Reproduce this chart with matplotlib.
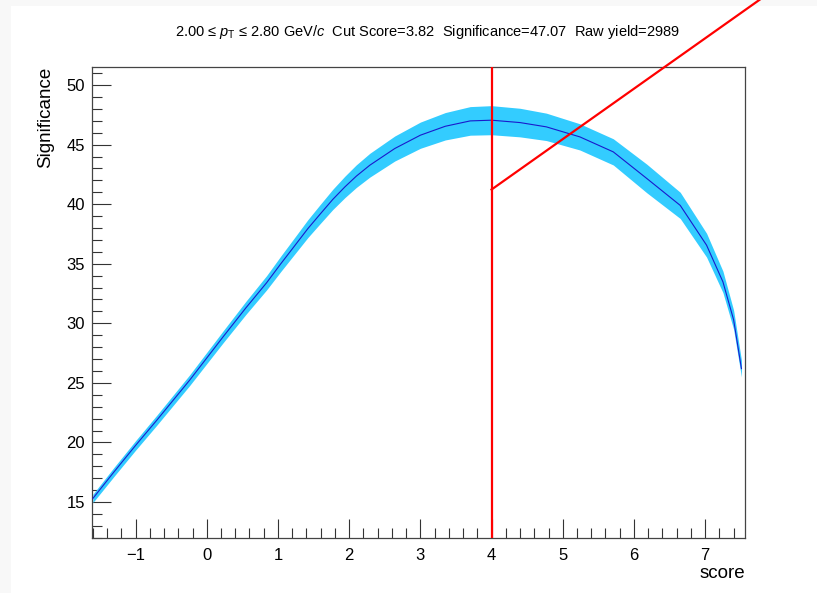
import matplotlib
matplotlib.use("Agg")
import matplotlib.pyplot as plt
from matplotlib.ticker import MultipleLocator
from matplotlib.patches import Rectangle

# ---- data ----
score = [-1.60, -1.30, -1.00, -0.70, -0.24, 0.23, 0.55, 0.84, 1.04, 1.24, 1.42, 1.59,
         1.77, 1.94, 2.10, 2.29, 2.64, 3.00, 3.35, 3.70, 4.00, 4.40, 4.77, 5.24, 5.71,
         6.18, 6.65, 7.02, 7.25, 7.40, 7.51]
significance = [15.30, 17.55, 19.75, 21.88, 25.23, 28.87, 31.30, 33.40, 35.00, 36.55,
                37.95, 39.15, 40.40, 41.45, 42.35, 43.27, 44.67, 45.79, 46.54, 46.99,
                47.05, 46.85, 46.49, 45.65, 44.39, 42.16, 39.90, 36.56, 33.48, 30.30,
                26.20]
sig_err = [0.35, 0.38, 0.40, 0.42, 0.45, 0.50, 0.55, 0.60, 0.65, 0.70, 0.75, 0.80,
           0.85, 0.90, 0.95, 1.00, 1.05, 1.10, 1.15, 1.20, 1.22, 1.20, 1.15, 1.10,
           1.10, 1.20, 1.10, 1.00, 0.90, 0.80, 0.70]

cut_x = [4.0, 4.0]
cut_y = [11.98, 51.54]
diag_x = [4.0, 7.9]
diag_y = [41.23, 57.73]

title = ("2.00 \u2264 $p_{\\rm T}$ \u2264 2.80 GeV/$c$  Cut Score=3.82  "
         "Significance=47.07  Raw yield=2989")

plt.rcParams['font.family'] = ['Liberation Sans', 'DejaVu Sans']
plt.rcParams['mathtext.fontset'] = 'custom'
plt.rcParams['mathtext.rm'] = 'Liberation Sans'
plt.rcParams['mathtext.it'] = 'Liberation Sans:italic'

fig = plt.figure(figsize=(8.17, 5.93), dpi=100)
fig.patch.set_facecolor('white')
# faint grey screenshot border strips
fig.add_artist(Rectangle((0, 0), 11 / 817, 1, transform=fig.transFigure,
                         facecolor='#f8f8f8', edgecolor='none', zorder=-5))
fig.add_artist(Rectangle((0, 1 - 6 / 593), 1, 6 / 593, transform=fig.transFigure,
                         facecolor='#f8f8f8', edgecolor='none', zorder=-5))

ax = fig.add_axes([92 / 817, 55 / 593, (745 - 92) / 817, (538 - 66.7) / 593])

lo = [s - e for s, e in zip(significance, sig_err)]
hi = [s + e for s, e in zip(significance, sig_err)]
ax.fill_between(score, lo, hi, color='#33ccff', linewidth=0, zorder=2)
ax.plot(score, significance, color='#1a1acc', linewidth=0.8, zorder=3)

ax.plot(cut_x, cut_y, color='red', linewidth=1.6, zorder=4)
ax.plot(diag_x, diag_y, color='red', linewidth=1.6, zorder=4, clip_on=False)

ax.set_xlim(-1.612, 7.56)
ax.set_ylim(11.98, 51.54)

ax.xaxis.set_major_locator(MultipleLocator(1))
ax.xaxis.set_minor_locator(MultipleLocator(0.2))
ax.yaxis.set_major_locator(MultipleLocator(5))
ax.yaxis.set_minor_locator(MultipleLocator(1))

ax.tick_params(which='both', direction='in', top=False, right=False,
               color='#333333', width=0.8, labelsize=12)
ax.tick_params(which='major', length=14)
ax.tick_params(which='minor', length=7)
ax.tick_params(axis='x', pad=7)
ax.tick_params(axis='y', pad=5)
for sp in ax.spines.values():
    sp.set_color('#444444')
    sp.set_linewidth(0.9)

ax.set_xlabel('score', fontsize=13.5, loc='right', labelpad=2)
ax.set_ylabel('Significance', fontsize=13.5, loc='top', labelpad=9)

fig.text(427 / 817, 1 - 32 / 593, title, ha='center', va='center', fontsize=10.5)

fig.savefig('out.png', dpi=100)
